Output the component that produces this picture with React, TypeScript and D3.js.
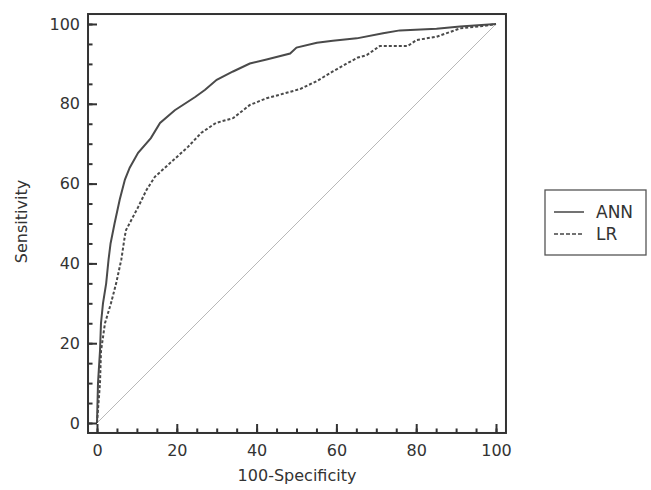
import React, { useEffect, useRef } from "react";
import { select, scaleLinear, axisLeft, axisBottom, line, range } from "d3";

// ROC curves, [100-specificity, sensitivity]
const annPoints: [number, number][] = [
  [0, 0], [0.25, 10], [0.75, 18], [1.0, 25], [1.5, 30], [2.3, 35], [2.9, 41],
  [3.4, 45], [4.4, 50], [5.7, 56], [7.0, 61], [8.2, 64], [10.3, 67.7],
  [13.5, 71.4], [15.8, 75.2], [19.5, 78.4], [24.6, 81.7], [27.1, 83.5],
  [30.0, 86.0], [34.1, 88.1], [38.3, 90.1], [42.5, 91.1], [48.4, 92.6],
  [50.0, 94.1], [55.1, 95.3], [59.1, 95.8], [65.1, 96.4], [71.7, 97.7],
  [75.9, 98.4], [85.1, 98.8], [91.0, 99.4], [100, 100],
];

const lrPoints: [number, number][] = [
  [0, 0], [0.75, 10], [1.0, 18], [2.0, 25], [3.5, 30], [4.8, 35], [6.1, 41],
  [7.0, 47], [7.3, 48.4], [8.2, 50.1], [10.3, 54.1], [12.4, 58.4],
  [14.5, 61.7], [18.6, 65.4], [22.8, 69.2], [26.1, 72.7], [29.8, 75.2],
  [34.1, 76.4], [38.3, 79.7], [42.5, 81.4], [46.6, 82.5], [50.9, 83.7],
  [55.1, 85.7], [59.1, 88.1], [62.6, 90.1], [65.4, 91.6], [67.6, 92.2],
  [70.9, 94.5], [77.9, 94.5], [80.1, 96.0], [85.1, 96.8], [91.0, 98.9],
  [96.7, 99.5], [100, 100],
];

const diagonal: [number, number][] = [[0, 0], [100, 100]];

const majorTicks = [0, 20, 40, 60, 80, 100];
const minorTicks = range(0, 101, 5);

const seriesNames = ["ANN", "LR"];

const FONT = "'DejaVu Sans', sans-serif";
const INK = "#333";

function RocChart() {
  const svgRef = useRef<SVGSVGElement>(null);

  useEffect(() => {
    const svg = select(svgRef.current);
    svg.selectAll("*").remove();

    const x = scaleLinear().domain([0, 100]).range([97, 496]);
    const y = scaleLinear().domain([0, 100]).range([423, 24]);

    // frame extents (a bit beyond 0..100)
    const left = x(-2.25);
    const right = x(102.5);
    const top = y(102.5);
    const bottom = y(-2.5);

    const path = line<[number, number]>()
      .x((d) => x(d[0]))
      .y((d) => y(d[1]));

    // diagonal reference
    svg
      .append("path")
      .attr("d", path(diagonal))
      .attr("fill", "none")
      .attr("stroke", "#b8b8b8")
      .attr("stroke-width", 1);

    svg
      .append("path")
      .attr("d", path(lrPoints))
      .attr("fill", "none")
      .attr("stroke", "#4a4a4a")
      .attr("stroke-width", 2)
      .attr("stroke-dasharray", "3,2");

    svg
      .append("path")
      .attr("d", path(annPoints))
      .attr("fill", "none")
      .attr("stroke", "#4a4a4a")
      .attr("stroke-width", 2);

    // frame
    svg
      .append("rect")
      .attr("x", left)
      .attr("y", top)
      .attr("width", right - left)
      .attr("height", bottom - top)
      .attr("fill", "none")
      .attr("stroke", INK)
      .attr("stroke-width", 2);

    // axes, ticks pointing inside
    const yMinor = svg.append("g").attr("transform", `translate(${left},0)`);
    yMinor.call(axisLeft(y).tickValues(minorTicks).tickSize(-4.5).tickFormat(() => ""));
    const yMajor = svg.append("g").attr("transform", `translate(${left},0)`);
    yMajor.call(axisLeft(y).tickValues(majorTicks).tickSize(-9).tickPadding(8));

    const xMinor = svg.append("g").attr("transform", `translate(0,${bottom})`);
    xMinor.call(axisBottom(x).tickValues(minorTicks).tickSize(-4.5).tickFormat(() => ""));
    const xMajor = svg.append("g").attr("transform", `translate(0,${bottom})`);
    xMajor.call(axisBottom(x).tickValues(majorTicks).tickSize(-9).tickPadding(12));

    svg.selectAll(".domain").remove();
    svg.selectAll(".tick line").attr("stroke", INK).attr("stroke-width", 2);
    svg
      .selectAll(".tick text")
      .attr("fill", INK)
      .attr("font-family", FONT)
      .attr("font-size", 16);

    // axis titles
    svg
      .append("text")
      .attr("x", 297)
      .attr("y", 481)
      .attr("text-anchor", "middle")
      .attr("font-family", FONT)
      .attr("font-size", 16)
      .attr("fill", INK)
      .text("100-Specificity");

    svg
      .append("text")
      .attr("transform", `translate(27,${(top + bottom) / 2 - 2}) rotate(-90)`)
      .attr("text-anchor", "middle")
      .attr("font-family", FONT)
      .attr("font-size", 16)
      .attr("fill", INK)
      .text("Sensitivity");

    // legend
    const legend = svg.append("g").attr("transform", "translate(545,190)");
    legend
      .append("rect")
      .attr("width", 101)
      .attr("height", 65)
      .attr("fill", "white")
      .attr("stroke", "#555")
      .attr("stroke-width", 1.3);

    const rows = legend
      .selectAll(".row")
      .data(seriesNames)
      .join("g")
      .attr("class", "row")
      .attr("transform", (_d, i) => `translate(0,${22 + i * 22})`);

    rows
      .append("line")
      .attr("x1", 9)
      .attr("x2", 39)
      .attr("stroke", "#444")
      .attr("stroke-width", 1.5)
      .attr("stroke-dasharray", (d) => (d === "LR" ? "4,2" : null));

    rows
      .append("text")
      .attr("x", 51)
      .attr("y", 6)
      .attr("font-family", FONT)
      .attr("font-size", 17)
      .attr("fill", INK)
      .text((d) => d);
  }, []);

  return (
    <svg
      ref={svgRef}
      width={651}
      height={490}
      style={{ position: "absolute", left: 0, top: 0, background: "white" }}
    />
  );
}

export default function App() {
  return <RocChart />;
}
